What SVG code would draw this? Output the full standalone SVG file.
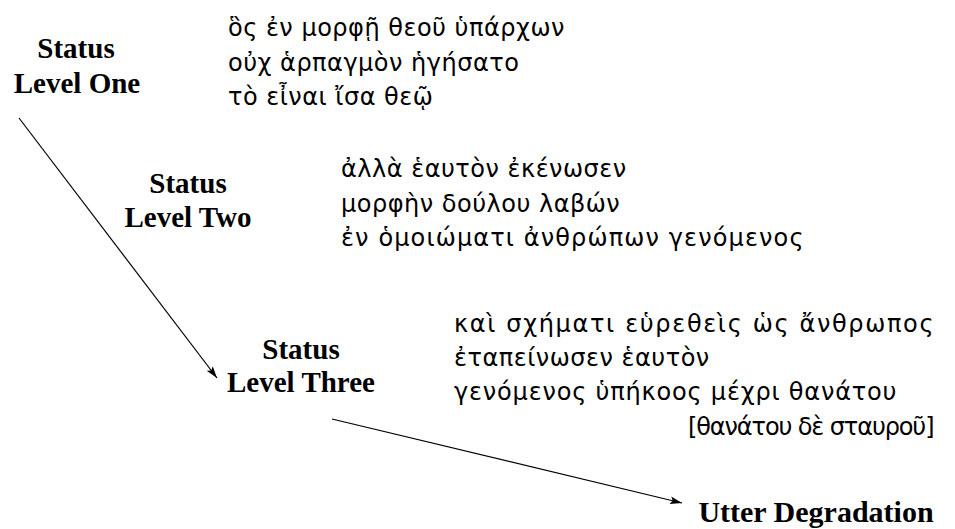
<svg xmlns="http://www.w3.org/2000/svg" width="955" height="529" viewBox="0 0 955 529">
<style>
.lbl{font-weight:bold;font-size:29px;fill:#000;text-anchor:middle}
.gk{font-size:24px;fill:#000;letter-spacing:0.5px}
.conn{stroke:#000;stroke-width:1.2;fill:none}
</style>
<defs>
<marker id="ah" viewBox="0 0 12 10" refX="12" refY="5" markerWidth="12" markerHeight="10" markerUnits="userSpaceOnUse" orient="auto">
<path d="M0,1.2 L12,5 L0,8.8 L2.5,5 Z" fill="#000"/>
</marker>
</defs>
<rect width="955" height="529" fill="#fff"/>
<g id="connectors">
<line class="conn" x1="19" y1="118" x2="217" y2="378" marker-end="url(#ah)"/>
<line class="conn" x1="332" y1="419" x2="682" y2="503" marker-end="url(#ah)"/>
</g>
<g id="level1" font-family="Liberation Serif, serif">
<text class="lbl" x="76" y="58">Status</text>
<text class="lbl" x="77" y="93">Level One</text>
</g>
<g id="text1" font-family="DejaVu Sans, sans-serif">
<text class="gk" x="228" y="36">ὃς ἐν μορφῇ θεοῦ ὑπάρχων</text>
<text class="gk" x="228" y="70.5">οὐχ ἁρπαγμὸν ἡγήσατο</text>
<text class="gk" x="228" y="105">τὸ εἶναι ἴσα θεῷ</text>
</g>
<g id="level2" font-family="Liberation Serif, serif">
<text class="lbl" x="188" y="193">Status</text>
<text class="lbl" x="188" y="227">Level Two</text>
</g>
<g id="text2" font-family="DejaVu Sans, sans-serif">
<text class="gk" x="341" y="177">ἀλλὰ ἑαυτὸν ἐκένωσεν</text>
<text class="gk" x="341" y="211.5">μορφὴν δούλου λαβών</text>
<text class="gk" x="341" y="246" textLength="463" lengthAdjust="spacing">ἐν ὁμοιώματι ἀνθρώπων γενόμενος</text>
</g>
<g id="level3" font-family="Liberation Serif, serif">
<text class="lbl" x="301" y="359">Status</text>
<text class="lbl" x="301" y="392">Level Three</text>
</g>
<g id="text3" font-family="DejaVu Sans, sans-serif">
<text class="gk" x="454" y="332" textLength="480" lengthAdjust="spacing">καὶ σχήματι εὑρεθεὶς ὡς ἄνθρωπος</text>
<text class="gk" x="454" y="366">ἐταπείνωσεν ἑαυτὸν</text>
<text class="gk" x="454" y="400" textLength="443" lengthAdjust="spacing">γενόμενος ὑπήκοος μέχρι θανάτου</text>
<text class="gk" x="688" y="435" textLength="247" lengthAdjust="spacing">[θανάτου δὲ σταυροῦ]</text>
</g>
<g id="utter" font-family="Liberation Serif, serif">
<text class="lbl" x="816" y="522" style="font-size:30px">Utter Degradation</text>
</g>
</svg>
